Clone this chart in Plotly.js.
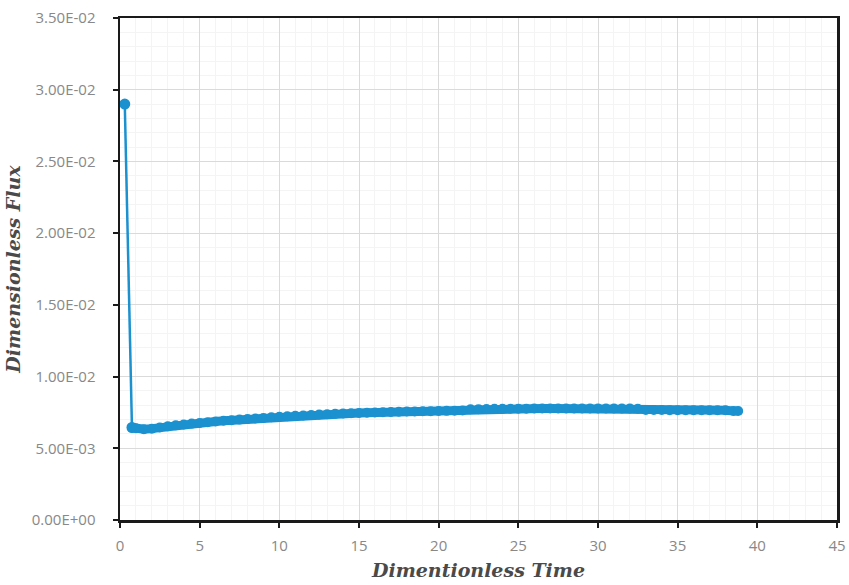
<!DOCTYPE html>
<html>
<head>
<meta charset="utf-8">
<script src="https://cdn.plot.ly/plotly-3.0.1.min.js"></script>
<style>html,body{margin:0;padding:0;background:#fff;}#chart{width:849px;height:585px;}</style>
</head>
<body>
<div id="chart"></div>
<script>
const timeValues = [0.3, 0.75, 1.0, 1.5, 2.0, 2.5, 3.0, 3.5, 4.0, 4.5, 5.0, 5.5, 6.0, 6.5, 7.0, 7.5, 8.0, 8.5, 9.0, 9.5,
  10.0, 10.5, 11.0, 11.5, 12.0, 12.5, 13.0, 13.5, 14.0, 14.5, 15.0, 15.5, 16.0, 16.5, 17.0, 17.5, 18.0, 18.5, 19.0, 19.5,
  20.0, 20.5, 21.0, 21.5, 22.0, 22.5, 23.0, 23.5, 24.0, 24.5, 25.0, 25.5, 26.0, 26.5, 27.0, 27.5, 28.0, 28.5, 29.0, 29.5,
  30.0, 30.5, 31.0, 31.5, 32.0, 32.5, 33.0, 33.5, 34.0, 34.5, 35.0, 35.5, 36.0, 36.5, 37.0, 37.5, 38.0, 38.5, 38.8];
const fluxValues = [0.0290, 0.00645, 0.00640, 0.00633, 0.00637, 0.00645, 0.00653, 0.00660, 0.00666, 0.00672,
  0.00677, 0.00682, 0.00687, 0.00692, 0.00696, 0.00700, 0.00704, 0.00708, 0.00712, 0.00716,
  0.00720, 0.00723, 0.00726, 0.00729, 0.00732, 0.00735, 0.00737, 0.00740, 0.00742, 0.00744,
  0.00746, 0.00748, 0.00750, 0.00752, 0.00753, 0.00755, 0.00756, 0.00757, 0.00758, 0.00759,
  0.00760, 0.00761, 0.00762, 0.00763, 0.00772, 0.00773, 0.00774, 0.00775, 0.00775, 0.00776,
  0.00776, 0.00776, 0.00777, 0.00777, 0.00777, 0.00777, 0.00777, 0.00777, 0.00777, 0.00777,
  0.00777, 0.00777, 0.00777, 0.00777, 0.00777, 0.00776, 0.00767, 0.00767, 0.00767, 0.00766,
  0.00766, 0.00766, 0.00766, 0.00766, 0.00766, 0.00765, 0.00765, 0.00760, 0.00760];
const xTickVals = [0, 5, 10, 15, 20, 25, 30, 35, 40, 45];
const yTickVals = [0, 0.005, 0.01, 0.015, 0.02, 0.025, 0.03, 0.035];
const yTickText = ["0.00E+00", "5.00E-03", "1.00E-02", "1.50E-02", "2.00E-02", "2.50E-02", "3.00E-02", "3.50E-02"];

const blue = '#1b91d0';
// initial drop: thin connector
const dropTrace = {
  x: timeValues.slice(0, 2), y: fluxValues.slice(0, 2), type: 'scatter', mode: 'lines+markers',
  line: {color: blue, width: 2.5}, marker: {color: blue, size: 11},
  hoverinfo: 'skip', showlegend: false
};
// dense remainder: thick band
const bandTrace = {
  x: timeValues.slice(1), y: fluxValues.slice(1), type: 'scatter', mode: 'lines+markers',
  line: {color: blue, width: 9}, marker: {color: blue, size: 10},
  hoverinfo: 'skip', showlegend: false
};
const tickFont = {family: '"Open Sans", "Liberation Sans", sans-serif', size: 15, color: '#888888'};
const titleFont = {family: '"DejaVu Serif", "Liberation Serif", serif', size: 19, color: '#4a4a4a', weight: 'bold', style: 'italic'};
const layout = {
  width: 849, height: 585,
  margin: {l: 120, r: 12, t: 18, b: 65},
  paper_bgcolor: '#fff', plot_bgcolor: '#fff',
  xaxis: {
    range: [0, 45], tickvals: xTickVals, ticktext: xTickVals.map(String),
    showline: true, linecolor: '#1a1a1a', linewidth: 2.5, mirror: true,
    ticks: 'outside', ticklen: 5, tickwidth: 2, tickcolor: '#1a1a1a',
    ticklabelstandoff: 5,
    showgrid: true, gridcolor: '#dadada', gridwidth: 1,
    minor: {dtick: 1, showgrid: true, gridcolor: '#f4f4f4', gridwidth: 1},
    zeroline: false, tickfont: tickFont,
    title: {text: 'Dimentionless Time', font: titleFont, standoff: 10}
  },
  yaxis: {
    range: [0, 0.035], tickvals: yTickVals, ticktext: yTickText,
    showline: true, linecolor: '#1a1a1a', linewidth: 2.5, mirror: true,
    ticks: 'outside', ticklen: 5, tickwidth: 2, tickcolor: '#1a1a1a',
    ticklabelstandoff: 14,
    showgrid: true, gridcolor: '#dadada', gridwidth: 1,
    minor: {dtick: 0.001, showgrid: true, gridcolor: '#f4f4f4', gridwidth: 1},
    zeroline: false, tickfont: tickFont,
    title: {text: 'Dimensionless Flux', font: titleFont, standoff: 6}
  }
};
Plotly.newPlot('chart', [dropTrace, bandTrace], layout, {staticPlot: true, displayModeBar: false});
</script>
</body>
</html>
